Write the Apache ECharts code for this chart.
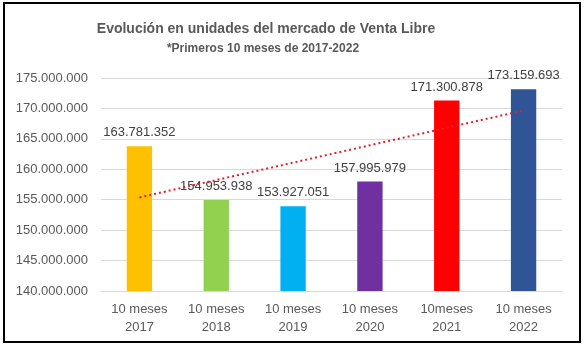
<!DOCTYPE html>
<html><head><meta charset="utf-8">
<script src="https://cdn.jsdelivr.net/npm/echarts@6/dist/echarts.min.js"></script>
<style>
html,body{margin:0;padding:0;background:#fff;}
#frame{position:absolute;left:3px;top:2px;width:574px;height:337px;border:2px solid #000;}
#chart{position:absolute;left:0;top:0;width:584px;height:348px;}
</style></head>
<body>
<div id="frame"></div>
<div id="chart"></div>
<script>
const categories = ['10 meses\n2017','10 meses\n2018','10 meses\n2019','10 meses\n2020','10meses\n2021','10 meses\n2022'];
const values = [163781352, 154953938, 153927051, 157995979, 171300878, 173159693];
const colors = ['#FFC000','#92D050','#00B0F0','#7030A0','#FF0000','#2F5597'];
const yTicks = {min:140000000, max:175000000, interval:5000000};

// linear trendline (least squares) from the values
const n = values.length;
const xm = (n+1)/2;
const ym = values.reduce((a,b)=>a+b,0)/n;
let sxy=0, sxx=0;
values.forEach((v,i)=>{const dx=(i+1)-xm; sxy+=dx*(v-ym); sxx+=dx*dx;});
const slope = sxy/sxx;
const trend = values.map((v,i)=> ym + slope*((i+1)-xm));

function fmt(v){return String(Math.round(v)).replace(/\B(?=(\d{3})+(?!\d))/g,'.');}

const chart = echarts.init(document.getElementById('chart'));
const font = 'Liberation Sans, Arial, sans-serif';
chart.setOption({
  animation:false,
  title:[
    {text:'Evolución en unidades del mercado de Venta Libre', left:261, top:17, textAlign:'center',
     textStyle:{fontFamily:font, fontSize:14, fontWeight:'bold', color:'#595959'}},
    {text:'*Primeros 10 meses de 2017-2022', left:258, top:38, textAlign:'center',
     textStyle:{fontFamily:font, fontSize:12, fontWeight:'bold', color:'#595959'}}
  ],
  grid:{left:101, right:22, top:78, bottom:57, containLabel:false},
  xAxis:{type:'category', data:categories,
    axisLine:{lineStyle:{color:'#d9d9d9'}}, axisTick:{show:false},
    axisLabel:{fontFamily:font, fontSize:13, color:'#595959', lineHeight:18, margin:9}},
  yAxis:{type:'value', min:yTicks.min, max:yTicks.max, interval:yTicks.interval,
    axisLine:{show:false}, axisTick:{show:false},
    splitLine:{lineStyle:{color:'#d9d9d9'}},
    axisLabel:{fontFamily:font, fontSize:13, color:'#595959', margin:13, formatter:fmt}},
  series:[
    {type:'bar', barWidth:'33%',
     data: values.map((v,i)=>({value:v, itemStyle:{color:colors[i]}})),
     label:{show:true, position:'top', distance:7, fontFamily:font, fontSize:13, color:'#404040',
       formatter:p=>fmt(p.value)}},
    {type:'line', data:trend, symbol:'none', z:5,
     lineStyle:{color:'#E0202F', width:2, type:[2,3]}}
  ]
});
</script>
</body></html>
